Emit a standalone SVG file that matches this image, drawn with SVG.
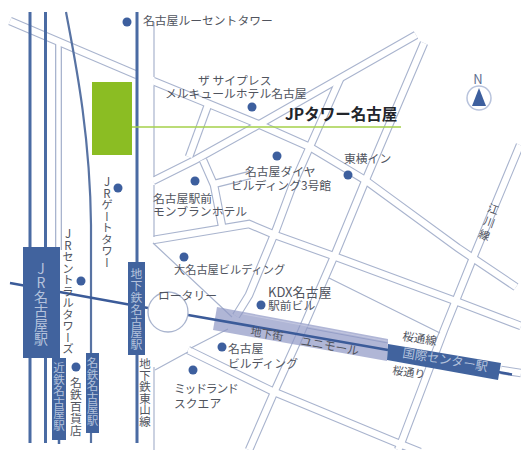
<svg xmlns="http://www.w3.org/2000/svg" width="521" height="450" viewBox="0 0 521 450">
<style>
text{font-family:"Noto Sans CJK JP","Noto Sans",sans-serif;font-size:11.800px;fill:#50545e}
.v{writing-mode:vertical-rl;text-orientation:upright}
.w{fill:#b4c2dc}
.ro,.ri{fill:none;stroke-linejoin:miter}
.ro{stroke:#a9b4ce;stroke-width:8.600}
.ri{stroke:#fff;stroke-width:6.400}
.e{fill:none;stroke:#a9b4ce;stroke-width:1.200}
.rail{fill:none;stroke:#4a6ba3;stroke-width:3}
.st{fill:#41639e}
.dot{fill:#3d5f9e}
</style>
<defs>
<g id="net">
<path d="M10 21L137 75"/>
<path d="M153 81L258 124L310 147L365 180L458 248L516 287"/>
<path d="M416 35L258 125L195 160L153 181"/>
<path d="M424 43L364 184L336 252L296 344L276 388L249 450"/>
<path d="M340 79L292 187L276 230L249 295L236 316"/>
<path d="M189 157L208 105"/>
<path d="M203 160L214 185L222 226"/>
<path d="M214 184L250 175"/>
<path d="M153 240L249 224L275 235L328 254L458 302L521 326"/>
<path d="M520 145L473 258L444 330L400 446L398 450"/>
<path d="M188 350L272 391L395 442L420 452"/>
<path d="M501 370L521 373"/>
</g>
</defs>
<g id="connectors">
<use href="#net" class="ro"/>
<path class="ro" style="stroke-width:7" d="M58.500 42V250"/>
<rect x="138" y="10" width="15.500" height="436" fill="#fff"/>
<use href="#net" class="ri"/>
<path class="ri" style="stroke-width:4.400" d="M58.500 40V250"/>
<path class="e" d="M154 22V77M154 86V177M154 185V237M154 367V450"/>
<path class="e" d="M153 243L232 317M155 370L188 352M191 348L228 329M329 278L440 333"/>
<path class="e" d="M307 328L388 343"/>
<polygon id="mall" points="217,307 388,339 387,361 213,330" fill="#8f97c4" fill-opacity=".7"/>
<path d="M243 314L387 341" fill="none" stroke="#c3c7e0" stroke-width="1"/>
<path class="rail" d="M30 12V443M45.500 12V443M137 12V443"/>
<path d="M66 12C74 55 90 130 91 225V443" fill="none" stroke="#5873a3" stroke-width="2.200"/>
<path d="M59 438V444" fill="none" stroke="#4a6ba3" stroke-width="2.500"/>
<path d="M10 283L148 308M188 315L388 350M498 372L512 374.500" fill="none" stroke="#3b5b99" stroke-width="2.600"/>
<circle cx="168" cy="312" r="20" fill="#fff" stroke="#a9b4ce" stroke-width="1.300"/>
</g>
<g id="site"><rect x="92" y="82" width="40" height="73" fill="#8bbd23"/><path d="M132 127H401" stroke="#a4d04a" stroke-width="1.500"/><text x="285" y="120" style="font-size:15.500px;font-weight:700;fill:#22252b">JPタワー名古屋</text></g>
<g id="jr-nagoya"><rect class="st" x="23" y="247" width="37" height="111"/><text class="v w" x="41" y="262" style="font-size:14px">JR名古屋駅</text></g>
<g id="subway-nagoya"><rect class="st" x="128" y="262" width="17" height="93"/><text class="v w" x="136.500" y="268" style="font-size:11.800px">地下鉄名古屋駅</text></g>
<g id="meitetsu-nagoya"><rect class="st" x="86" y="353" width="13" height="80"/><text class="v w" x="92.500" y="357" style="font-size:11.500px">名鉄名古屋駅</text></g>
<g id="kintetsu-nagoya"><rect class="st" x="52" y="358" width="14" height="82"/><text class="v w" x="59" y="362" style="font-size:11.500px">近鉄名古屋駅</text></g>
<g id="kokusai"><polygon class="st" points="388,344 501,363 498,380 387,360"/><text class="w" transform="translate(402 357) rotate(9.500)" style="font-size:12.300px">国際センター駅</text></g>
<g id="lucent"><circle class="dot" cx="127" cy="22" r="4.500"/><text x="143" y="25">名古屋ルーセントタワー</text></g>
<g id="mercure"><circle class="dot" cx="252" cy="107" r="4.500"/><text x="198" y="85">ザ サイプレス</text><text x="165" y="98">メルキュールホテル名古屋</text></g>
<g id="diamond"><circle class="dot" cx="277" cy="156" r="4.500"/><text x="245" y="176">名古屋ダイヤ</text><text x="231" y="190">ビルディング3号館</text></g>
<g id="toyoko"><circle class="dot" cx="348" cy="175" r="4.500"/><text x="344" y="163">東横イン</text></g>
<g id="montblanc"><circle class="dot" cx="195" cy="181" r="4.500"/><text x="153" y="203">名古屋駅前</text><text x="153" y="216">モンブランホテル</text></g>
<g id="jr-gate"><circle class="dot" cx="118" cy="188" r="4.500"/><text class="v" x="107" y="176" style="font-size:11.500px">JRゲートタワー</text></g>
<g id="dai-nagoya"><circle class="dot" cx="184" cy="257" r="4.500"/><text x="174" y="274" style="font-size:11.200px">大名古屋ビルディング</text></g>
<g id="jr-central"><circle class="dot" cx="81" cy="281" r="4.500"/><text class="v" x="68" y="228" style="font-size:11.500px">JRセントラルタワーズ</text></g>
<g id="kdx"><circle class="dot" cx="261" cy="305" r="4.500"/><text x="268" y="297" style="font-size:13px">KDX名古屋</text><text x="268" y="310">駅前ビル</text></g>
<g id="nagoya-bldg"><circle class="dot" cx="222" cy="347" r="4.500"/><text x="228" y="353">名古屋</text><text x="228" y="368">ビルディング</text></g>
<g id="midland"><circle class="dot" cx="193" cy="370" r="4.500"/><text x="174" y="393" style="letter-spacing:-1.200px">ミッドランド</text><text x="174" y="408">スクエア</text></g>
<g id="meitetsu-dept"><circle class="dot" cx="76" cy="367" r="4.500"/><text class="v" x="76" y="377">名鉄百貨店</text></g>
<g id="labels">
<text x="158" y="300">ロータリー</text>
<text class="v" x="145" y="358" style="font-size:11.500px">地下鉄東山線</text>
<text transform="translate(250 335) rotate(10)" style="font-size:11px">地下街</text>
<text transform="translate(300 345) rotate(10)">ユニモール</text>
<text transform="translate(402 340) rotate(9)" style="font-size:11.500px">桜通線</text>
<text transform="translate(392 374) rotate(8)" style="font-size:11px">桜通り</text>
<text transform="translate(492 213) rotate(20)" text-anchor="middle" style="font-size:11px">江</text>
<text transform="translate(488 226) rotate(20)" text-anchor="middle" style="font-size:11px">川</text>
<text transform="translate(483 239) rotate(20)" text-anchor="middle" style="font-size:11px">線</text>
</g>
<g id="north"><circle cx="479" cy="98" r="12" fill="#fff" stroke="#b8c3dc" stroke-width="1.500"/><polygon class="dot" points="479,88 472,106 486,106"/><text x="478" y="84" text-anchor="middle" style="font-size:13px;fill:#5f6f90">N</text></g>
</svg>
